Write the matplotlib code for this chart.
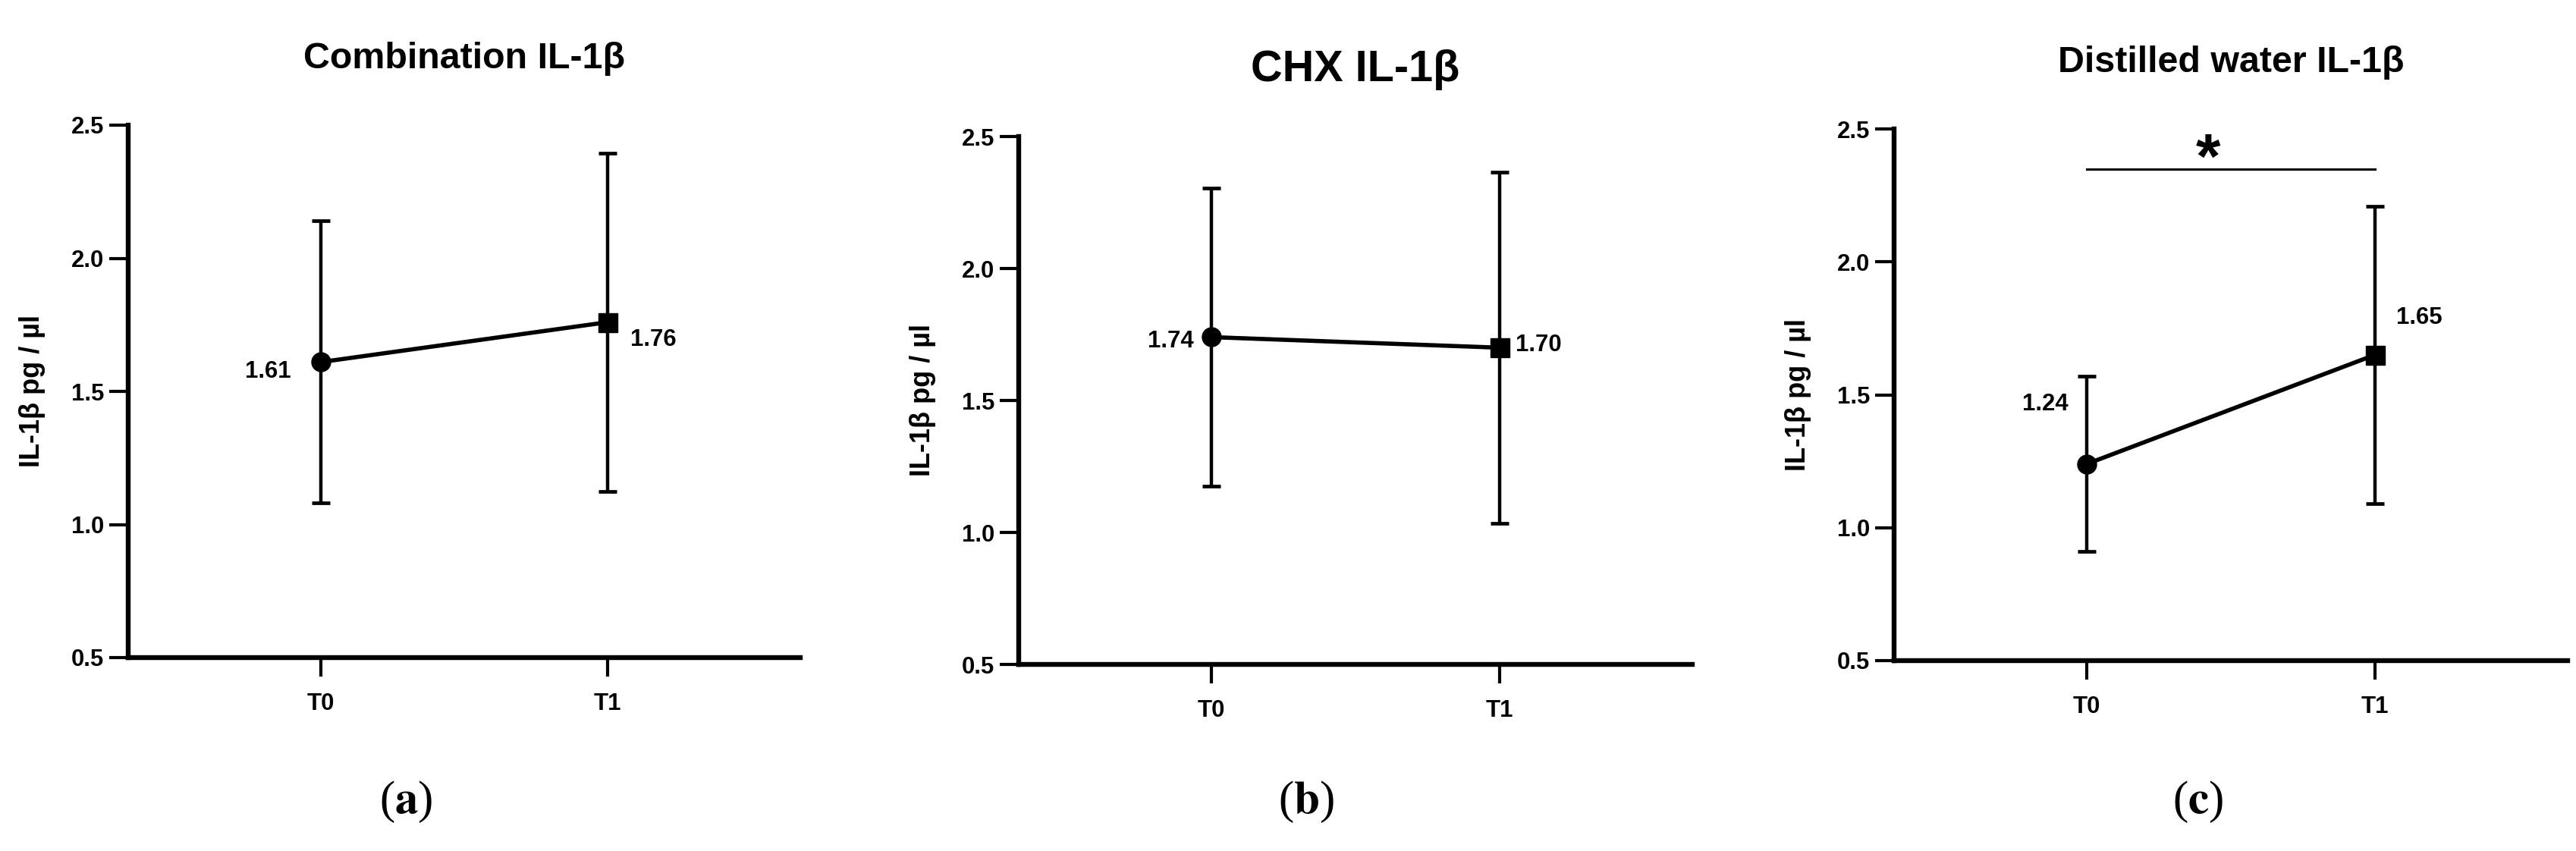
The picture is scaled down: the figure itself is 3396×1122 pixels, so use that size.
import matplotlib.pyplot as plt
from matplotlib import font_manager

# chart data
times = ["T0", "T1"]
titles = ["Combination IL-1β", "CHX IL-1β", "Distilled water IL-1β"]
panel_tags = ["a", "b", "c"]
means_comb = [1.61, 1.76]
sd_comb = [0.53, 0.635]
means_chx = [1.74, 1.70]
sd_chx = [0.565, 0.665]
means_water = [1.24, 1.65]
sd_water = [0.33, 0.56]
yticks = [0.5, 1.0, 1.5, 2.0, 2.5]
ylabel = "IL-1β pg / µl"
sig_level = 2.35  # bracket height for the T0 vs T1 comparison in (c)

# layout (figure pixels are 3396 x 1122)
W, H = 3396, 1122
axes_px = [(169, 1055, 165, 867), (1343, 2231, 180, 876), (2497, 3385, 170, 871)]
title_px = [(612, 90, 42), (1787, 107, 50), (2941, 95, 42)]
tag_px = [535, 1722, 2898]
label_offsets = [[(-39, -13), (30, -23)], [(-24, -6), (21, 3)], [(-25, 79), (28, 49)]]

# the original text is narrow; use the narrow face when it is there
names = {f.name for f in font_manager.fontManager.ttflist}
if "Liberation Sans Narrow" in names:
    narrow, squeeze = "Liberation Sans Narrow", 1.0
else:
    narrow, squeeze = "Liberation Sans", 0.83

plt.rcParams['font.family'] = [narrow, 'Liberation Sans', 'DejaVu Sans']
plt.rcParams['font.weight'] = 'bold'
plt.rcParams['mathtext.fontset'] = 'stix'

fig = plt.figure(figsize=(W / 100, H / 100), dpi=100)

panels = [(means_comb, sd_comb), (means_chx, sd_chx), (means_water, sd_water)]
for i, (means, sds) in enumerate(panels):
    x0, x1, ytop, ybot = axes_px[i]
    ax = fig.add_axes([x0 / W, 1 - ybot / H, (x1 - x0) / W, (ybot - ytop) / H])
    xs = list(range(len(times)))

    ax.plot(xs, means, color="black", lw=4, zorder=3)
    ax.errorbar(xs, means, yerr=sds, fmt="none", ecolor="black",
                elinewidth=3.2, capsize=8.5, capthick=3.4, zorder=2)
    ax.plot(xs[0], means[0], "o", color="black", ms=18, zorder=4)
    ax.plot(xs[1], means[1], "s", color="black", ms=18, zorder=4)

    for j, (xv, m) in enumerate(zip(xs, means)):
        dx, dy = label_offsets[i][j]
        ax.annotate(f"{m:.2f}", (xv, m), xytext=(dx, dy), textcoords="offset pixels",
                    ha="right" if dx < 0 else "left", va="center",
                    fontsize=27 * squeeze, fontweight="bold")

    ax.set_xlim(-0.67, 1.67)
    ax.set_ylim(0.5, 2.5)
    ax.set_xticks(xs)
    ax.set_xticklabels(times)
    ax.set_yticks(yticks)
    ax.set_yticklabels([f"{v:.1f}" for v in yticks])
    for s in ["top", "right"]:
        ax.spines[s].set_visible(False)
    for s in ["left", "bottom"]:
        ax.spines[s].set_linewidth(4.6)
        ax.spines[s].set_capstyle("projecting")
    ax.tick_params(width=3, length=18, labelsize=27 * squeeze, pad=5)
    ax.tick_params(axis="x", pad=15)
    ax.set_ylabel(ylabel, fontsize=26, fontweight="bold",
                  family=["Liberation Sans", "DejaVu Sans"])
    ax.yaxis.set_label_coords(-0.123, 0.5)
    ax.patch.set_alpha(0)

    tx, ty, tfs = title_px[i]
    fig.text(tx / W, 1 - ty / H, titles[i], ha="center", va="baseline",
             fontsize=tfs * squeeze, fontweight="bold")
    fig.text(tag_px[i] / W, 1 - 1057 / H, "($\\mathbf{" + panel_tags[i] + "}$)",
             ha="center", va="center", fontsize=44, family="Liberation Serif",
             fontweight="normal")

    if i == 2:
        ax.plot(xs, [sig_level, sig_level], color="black", lw=2.2)
        ax.annotate("*", (0.42, sig_level), xytext=(0, -12), textcoords="offset pixels",
                    ha="center", va="baseline", fontsize=60, fontweight="bold")

fig.savefig("out.png", dpi=100)
